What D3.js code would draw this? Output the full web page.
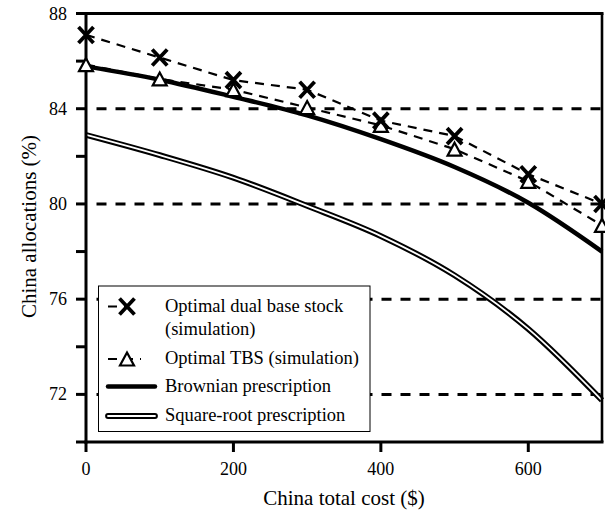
<!DOCTYPE html>
<html>
<head>
<meta charset="utf-8">
<script src="https://cdn.jsdelivr.net/npm/d3@7"></script>
<style>
  html, body { margin: 0; padding: 0; background: #fff; }
  svg { display: block; }
</style>
</head>
<body>
<svg id="chart" width="605" height="512" font-family="'Liberation Serif', 'Times New Roman', Times, serif"></svg>
<script>
// ---- data ----
const costs = [0, 100, 200, 300, 400, 500, 600, 700];
const dualBaseStock = [87.1, 86.15, 85.2, 84.8, 83.5, 82.85, 81.25, 80.0];
const optimalTBS = [85.85, 85.25, 84.8, 84.05, 83.3, 82.3, 80.95, 79.1];
const brownian = [85.78, 85.22, 84.5, 83.72, 82.72, 81.55, 80.05, 78.0];
const squareRoot = [82.9, 82.05, 81.1, 79.92, 78.65, 77.0, 74.75, 71.75];
const xTickValues = [0, 200, 400, 600];
const yTickValues = [70, 72, 74, 76, 78, 80, 82, 84, 86, 88];
const yLabelValues = [72, 76, 80, 84, 88];
const gridValues = [72, 76, 80, 84];
const legendLabels = [
  ["Optimal dual base stock", "(simulation)"],
  ["Optimal TBS (simulation)"],
  ["Brownian prescription"],
  ["Square-root prescription"]
];
const xTitle = "China total cost ($)";
const yTitle = "China allocations (%)";

// ---- layout ----
const svg = d3.select("#chart");
const x = d3.scaleLinear().domain([0, 700]).range([86, 602]);
const y = d3.scaleLinear().domain([70, 88]).range([442, 13.5]);

const pts = arr => costs.map((c, i) => [x(c), y(arr[i])]);

// grid (dashed)
svg.append("g").selectAll("line").data(gridValues).join("line")
  .attr("x1", x(0) + 10.5).attr("x2", x(700))
  .attr("y1", d => y(d)).attr("y2", d => y(d))
  .attr("stroke", "#000").attr("stroke-width", 3)
  .attr("stroke-dasharray", "10,9");

// curves
const smooth = d3.line().curve(d3.curveMonotoneX);
const straight = d3.line();

svg.append("path").attr("d", smooth(pts(squareRoot)))
  .attr("fill", "none").attr("stroke", "#000").attr("stroke-width", 5.8);
svg.append("path").attr("d", smooth(pts(squareRoot)))
  .attr("fill", "none").attr("stroke", "#fff").attr("stroke-width", 1.8);

svg.append("path").attr("d", smooth(pts(brownian)))
  .attr("fill", "none").attr("stroke", "#000").attr("stroke-width", 4.5);

svg.append("path").attr("d", straight(pts(optimalTBS)))
  .attr("fill", "none").attr("stroke", "#000").attr("stroke-width", 2.2)
  .attr("stroke-dasharray", "9,7");
svg.append("path").attr("d", straight(pts(dualBaseStock)))
  .attr("fill", "none").attr("stroke", "#000").attr("stroke-width", 2.2)
  .attr("stroke-dasharray", "9,7");

// markers
function triangle(g, cx, cy) {
  g.append("path")
    .attr("d", `M${cx},${cy - 6.5} L${cx + 7},${cy + 6.5} L${cx - 7},${cy + 6.5} Z`)
    .attr("fill", "#fff").attr("stroke", "#000").attr("stroke-width", 2.2)
    .attr("stroke-linejoin", "miter");
}
function cross(g, cx, cy) {
  g.append("path")
    .attr("d", `M${cx - 7.5},${cy - 8} L${cx + 7.5},${cy + 8} M${cx + 7.5},${cy - 8} L${cx - 7.5},${cy + 8}`)
    .attr("fill", "none").attr("stroke", "#000").attr("stroke-width", 3.8);
}

// axes and frame
const axisG = svg.append("g");
axisG.selectAll("line.yt").data(yTickValues).join("line")
  .attr("x1", x(0) - 10).attr("x2", x(0))
  .attr("y1", d => y(d)).attr("y2", d => y(d))
  .attr("stroke", "#000").attr("stroke-width", 3);
axisG.selectAll("line.xt").data(xTickValues).join("line")
  .attr("x1", d => x(d)).attr("x2", d => x(d))
  .attr("y1", y(70)).attr("y2", y(70) + 10)
  .attr("stroke", "#000").attr("stroke-width", 3);
axisG.append("line").attr("x1", x(0)).attr("x2", x(0)).attr("y1", y(88) - 1.5).attr("y2", y(70) + 1.5)
  .attr("stroke", "#000").attr("stroke-width", 3);
axisG.append("line").attr("x1", x(0) - 1.5).attr("x2", x(700) + 1.5).attr("y1", y(70)).attr("y2", y(70))
  .attr("stroke", "#000").attr("stroke-width", 3);
axisG.append("line").attr("x1", x(0)).attr("x2", x(700) + 1.5).attr("y1", y(88)).attr("y2", y(88))
  .attr("stroke", "#000").attr("stroke-width", 3);
axisG.append("line").attr("x1", x(700)).attr("x2", x(700)).attr("y1", y(88)).attr("y2", y(70))
  .attr("stroke", "#000").attr("stroke-width", 2.6);

// markers on top
const mk = svg.append("g");
costs.forEach((c, i) => triangle(mk, x(c), y(optimalTBS[i])));
costs.forEach((c, i) => cross(mk, x(c), y(dualBaseStock[i])));

// tick labels
svg.append("g").selectAll("text").data(yLabelValues).join("text")
  .attr("x", 67).attr("y", d => y(d) + 6)
  .attr("text-anchor", "end").attr("font-size", 18).text(d => d);
svg.append("g").selectAll("text").data(xTickValues).join("text")
  .attr("x", d => x(d)).attr("y", 475)
  .attr("text-anchor", "middle").attr("font-size", 18).text(d => d);

// titles
svg.append("text").attr("x", 344).attr("y", 505)
  .attr("text-anchor", "middle").attr("font-size", 21).text(xTitle);
svg.append("text").attr("transform", "translate(35.5,226.5) rotate(-90)")
  .attr("text-anchor", "middle").attr("font-size", 21).text(yTitle);

// legend
const lg = svg.append("g");
lg.append("rect").attr("x", 98.5).attr("y", 286).attr("width", 271.5).attr("height", 145.5)
  .attr("fill", "#fff").attr("stroke", "#000").attr("stroke-width", 1);
const lx0 = 108, lx1 = 155, lcx = 127;
lg.append("line").attr("x1", lx0).attr("x2", lcx).attr("y1", 306.5).attr("y2", 306.5)
  .attr("stroke", "#000").attr("stroke-width", 2.2).attr("stroke-dasharray", "9,7");
cross(lg, lcx, 306.5);
lg.append("line").attr("x1", lx0).attr("x2", lx0 + 33).attr("y1", 359).attr("y2", 359)
  .attr("stroke", "#000").attr("stroke-width", 2.2).attr("stroke-dasharray", "9,7");
triangle(lg, lcx, 359);
lg.append("line").attr("x1", lx0).attr("x2", lx1).attr("y1", 386.5).attr("y2", 386.5)
  .attr("stroke", "#000").attr("stroke-width", 4.5).attr("stroke-linecap", "round");
lg.append("line").attr("x1", lx0).attr("x2", lx1).attr("y1", 416).attr("y2", 416)
  .attr("stroke", "#000").attr("stroke-width", 5.8).attr("stroke-linecap", "round");
lg.append("line").attr("x1", lx0).attr("x2", lx1).attr("y1", 416).attr("y2", 416)
  .attr("stroke", "#fff").attr("stroke-width", 1.8).attr("stroke-linecap", "round");

const textRows = [[legendLabels[0][0], 312], [legendLabels[0][1], 335], [legendLabels[1][0], 364],
                  [legendLabels[2][0], 392], [legendLabels[3][0], 421]];
lg.selectAll("text").data(textRows).join("text")
  .attr("x", 165).attr("y", d => d[1]).attr("font-size", 18.5).text(d => d[0]);
</script>
</body>
</html>
